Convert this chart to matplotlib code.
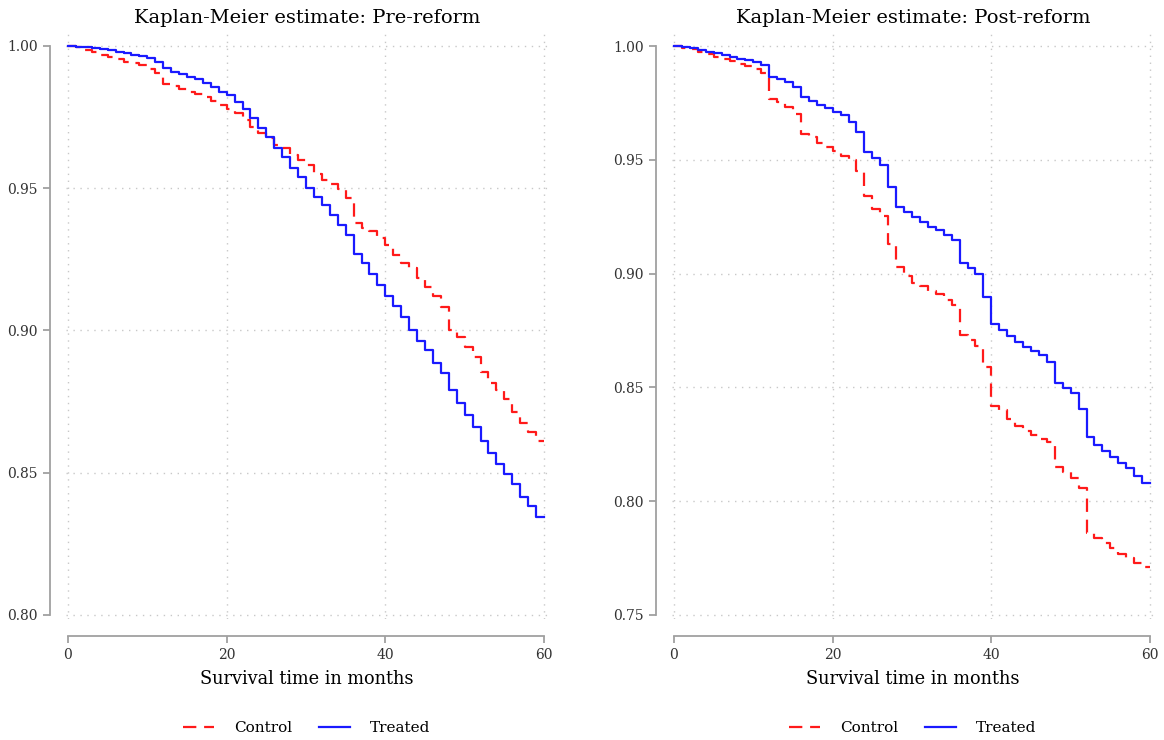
import numpy as np
import matplotlib
matplotlib.use("Agg")
import matplotlib.pyplot as plt

plt.rcParams['font.family'] = ['DejaVu Serif']

# months 0..59, survival after the step at that month
months = np.arange(0, 61)

pre_control = [1.0000, 0.9995, 0.9985, 0.9978, 0.9968, 0.9962, 0.9955, 0.9945, 0.9940, 0.9932,
               0.9918, 0.9905, 0.9868, 0.9858, 0.9848, 0.9840, 0.9830, 0.9820, 0.9805, 0.9792,
               0.9780, 0.9765, 0.9740, 0.9715, 0.9695, 0.9675, 0.9652, 0.9640, 0.9618, 0.9600,
               0.9580, 0.9550, 0.9530, 0.9515, 0.9496, 0.9466, 0.9377, 0.9360, 0.9348, 0.9324,
               0.9300, 0.9265, 0.9236, 0.9219, 0.9185, 0.9152, 0.9120, 0.9084, 0.9002, 0.8978,
               0.8943, 0.8908, 0.8855, 0.8814, 0.8790, 0.8760, 0.8715, 0.8674, 0.8644, 0.8610]
pre_treated = [1.0000, 0.9998, 0.9996, 0.9993, 0.9989, 0.9985, 0.9980, 0.9975, 0.9970, 0.9964,
               0.9958, 0.9945, 0.9922, 0.9910, 0.9902, 0.9890, 0.9883, 0.9871, 0.9857, 0.9840,
               0.9828, 0.9804, 0.9777, 0.9746, 0.9711, 0.9680, 0.9640, 0.9610, 0.9570, 0.9540,
               0.9500, 0.9470, 0.9440, 0.9406, 0.9370, 0.9336, 0.9270, 0.9237, 0.9200, 0.9160,
               0.9122, 0.9086, 0.9049, 0.9002, 0.8964, 0.8931, 0.8887, 0.8852, 0.8790, 0.8746,
               0.8703, 0.8660, 0.8613, 0.8570, 0.8530, 0.8496, 0.8460, 0.8416, 0.8383, 0.8346]
post_control = [1.0000, 0.9993, 0.9985, 0.9975, 0.9965, 0.9953, 0.9945, 0.9932, 0.9922, 0.9912,
                0.9898, 0.9880, 0.9768, 0.9752, 0.9733, 0.9700, 0.9615, 0.9598, 0.9575, 0.9555,
                0.9540, 0.9518, 0.9500, 0.9450, 0.9340, 0.9285, 0.9255, 0.9130, 0.9030, 0.8990,
                0.8960, 0.8945, 0.8925, 0.8910, 0.8885, 0.8860, 0.8730, 0.8708, 0.8680, 0.8590,
                0.8420, 0.8400, 0.8360, 0.8330, 0.8310, 0.8290, 0.8275, 0.8260, 0.8150, 0.8130,
                0.8100, 0.8060, 0.7860, 0.7840, 0.7815, 0.7795, 0.7770, 0.7750, 0.7728, 0.7710]
post_treated = [1.0000, 0.9996, 0.9990, 0.9983, 0.9975, 0.9968, 0.9960, 0.9952, 0.9945, 0.9938,
                0.9928, 0.9917, 0.9865, 0.9854, 0.9843, 0.9820, 0.9777, 0.9760, 0.9740, 0.9726,
                0.9711, 0.9695, 0.9665, 0.9624, 0.9536, 0.9507, 0.9477, 0.9380, 0.9292, 0.9272,
                0.9250, 0.9228, 0.9206, 0.9190, 0.9171, 0.9148, 0.9045, 0.9023, 0.9000, 0.8899,
                0.8779, 0.8752, 0.8726, 0.8701, 0.8679, 0.8661, 0.8642, 0.8613, 0.8521, 0.8496,
                0.8474, 0.8404, 0.8281, 0.8247, 0.8222, 0.8196, 0.8169, 0.8145, 0.8111, 0.8081]

titles = ["Kaplan-Meier estimate: Pre-reform", "Kaplan-Meier estimate: Post-reform"]
yticks_pre = [0.80, 0.85, 0.90, 0.95, 1.00]
yticks_post = [0.75, 0.80, 0.85, 0.90, 0.95, 1.00]
xticks = [0, 20, 40, 60]

W, H = 1164, 740
fig = plt.figure(figsize=(W / 100, H / 100), dpi=100)

gray = '#a0a0a0'
txt = '#333333'


def panel(left_px, ylo, ytop_px, ybot_px, title, ctrl, trt, yticks):
    # data 0..60 spans 476 px; pad the view a little like Stata does
    ppx = 476 / 60
    ppy = (ybot_px - ytop_px) / (1.0 - ylo)
    x0 = left_px - 0.3 * ppx
    x1 = left_px + 476 + 0.5 * ppx
    y0 = ybot_px + 4.3
    y1 = ytop_px - 12.8
    ax = fig.add_axes([x0 / W, 1 - y0 / H, (x1 - x0) / W, (y0 - y1) / H])
    ax.set_xlim(-0.3, 60.5)
    ax.set_ylim(ylo - 4.3 / ppy, 1.0 + 12.8 / ppy)

    ax.step(months, np.append(ctrl, ctrl[-1]), where='post', color='#ff1a1a',
            lw=1.6, dashes=(6, 3.5), label='Control')
    ax.step(months, np.append(trt, trt[-1]), where='post', color='#1a1aff',
            lw=1.6, label='Treated')

    ax.set_xticks(xticks)
    ax.set_yticks(yticks)
    ax.set_yticklabels(['%.2f' % v for v in yticks])
    ax.grid(True, color='#c8c8c8', linestyle=(0, (1, 4)), lw=1.0)

    for s in ['top', 'right']:
        ax.spines[s].set_visible(False)
    ax.spines['left'].set_position(('outward', 11.5))
    ax.spines['bottom'].set_position(('outward', 12))
    ax.spines['left'].set_bounds(ylo, 1.0)
    ax.spines['bottom'].set_bounds(0, 60)
    for s in ['left', 'bottom']:
        ax.spines[s].set_color(gray)
        ax.spines[s].set_linewidth(1.3)
    ax.tick_params(colors=gray, labelcolor=txt, labelsize=10, length=5, width=1.3)

    ax.set_title(title, fontsize=14, color='black', pad=7)
    ax.set_xlabel("Survival time in months", fontsize=12.8, color='black', labelpad=6)
    ax.legend(loc='upper center', bbox_to_anchor=(0.5, -0.15), ncol=2, frameon=False,
              fontsize=11, handlelength=2.0, handletextpad=1.3, columnspacing=1.8)
    return ax


panel(68, 0.80, 46, 615, titles[0], pre_control, pre_treated, yticks_pre)
panel(674, 0.75, 46, 615, titles[1], post_control, post_treated, yticks_post)

fig.savefig("out.png", dpi=100, facecolor='white')
